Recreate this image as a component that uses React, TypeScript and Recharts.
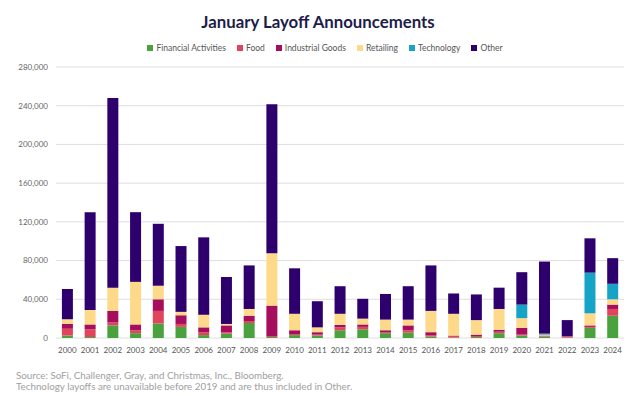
import React from "react";
import { BarChart, Bar, XAxis, YAxis, CartesianGrid } from "recharts";

const years = ["2000","2001","2002","2003","2004","2005","2006","2007","2008","2009","2010","2011","2012","2013","2014","2015","2016","2017","2018","2019","2020","2021","2022","2023","2024"];
const financial = [2500,1000,13000,5000,15000,11500,3000,4500,15500,1000,3000,2500,8000,9000,5000,5500,1500,500,1000,5000,2500,1500,500,10500,23000];
const food = [7000,8000,3000,3000,13000,3000,3000,1500,2000,1000,1000,1000,3000,2500,1000,2500,1500,1500,1000,1500,1000,500,1000,1000,7000];
const industrial = [5000,5000,12000,6000,12000,9000,5000,7000,5500,31500,4000,2500,2500,2500,2000,5000,3000,500,1500,2000,7000,500,500,1500,4500];
const retailing = [5000,15000,24000,44000,14000,3500,13000,1500,7000,54000,17000,5000,11500,6000,11000,6000,22000,22500,15000,21500,10000,1000,0,12500,5500];
const technology = [0,0,0,0,0,0,0,0,0,0,0,0,0,0,0,0,0,0,0,0,14000,1000,0,42000,16000];
const other = [31000,101000,196000,72000,64000,68000,80000,48500,45000,154000,47000,27000,28500,20500,26500,34500,47000,21000,26500,22000,33500,74500,16500,35500,26500];
const yTicks = [0,40000,80000,120000,160000,200000,240000,280000];

const series = [
  { key: "Financial Activities", values: financial, color: "#4aa23f" },
  { key: "Food", values: food, color: "#e1455b" },
  { key: "Industrial Goods", values: industrial, color: "#a60d5c" },
  { key: "Retailing", values: retailing, color: "#fed98a" },
  { key: "Technology", values: technology, color: "#15a3c8" },
  { key: "Other", values: other, color: "#2d006e" },
];

const data = years.map((y, i) => {
  const row: Record<string, any> = { year: y };
  series.forEach((s) => { row[s.key] = s.values[i]; });
  return row;
});

const font = "Lato, 'Open Sans', sans-serif";

export default function App() {
  return (
    <div style={{ position: "absolute", left: 0, top: 0, width: 628, height: 396, background: "#fff", fontFamily: font }}>
      <div style={{ position: "absolute", top: 11, left: 0, width: 636, textAlign: "center", fontSize: 16.8, fontWeight: 700, color: "#1d1c4a" }}>
        January Layoff Announcements
      </div>
      <div style={{ position: "absolute", top: 42, left: 0, width: 650, display: "flex", justifyContent: "center", gap: 11, fontSize: 8.5, color: "#555", lineHeight: "12px" }}>
        {series.map((s) => (
          <div key={s.key} style={{ display: "flex", alignItems: "center" }}>
            <span style={{ display: "inline-block", width: 6, height: 6, background: s.color, marginRight: 3 }} />
            <span>{s.key}</span>
          </div>
        ))}
      </div>
      <BarChart width={628} height={396} data={data} margin={{ top: 67, right: 4, bottom: 38, left: 8 }} barCategoryGap="26%">
        <CartesianGrid vertical={false} stroke="#dedede" />
        <XAxis dataKey="year" height={20} axisLine={false} tickLine={false} tick={{ fontSize: 8, fill: "#555" }} tickMargin={3} interval={0} />
        <YAxis width={48} domain={[0, 280000]} ticks={yTicks} axisLine={false} tickLine={false} tick={{ fontSize: 8, fill: "#666" }} tickFormatter={(v: number) => v.toLocaleString("en-US")} />
        {series.map((s) => (
          <Bar key={s.key} dataKey={s.key} stackId="a" fill={s.color} isAnimationActive={false} />
        ))}
      </BarChart>
      <div style={{ position: "absolute", left: 16, top: 370, fontSize: 9.8, lineHeight: "11px", color: "#a0a0a0" }}>
        <div>Source: SoFi, Challenger, Gray, and Christmas, Inc., Bloomberg.</div>
        <div>Technology layoffs are unavailable before 2019 and are thus included in Other.</div>
      </div>
    </div>
  );
}
